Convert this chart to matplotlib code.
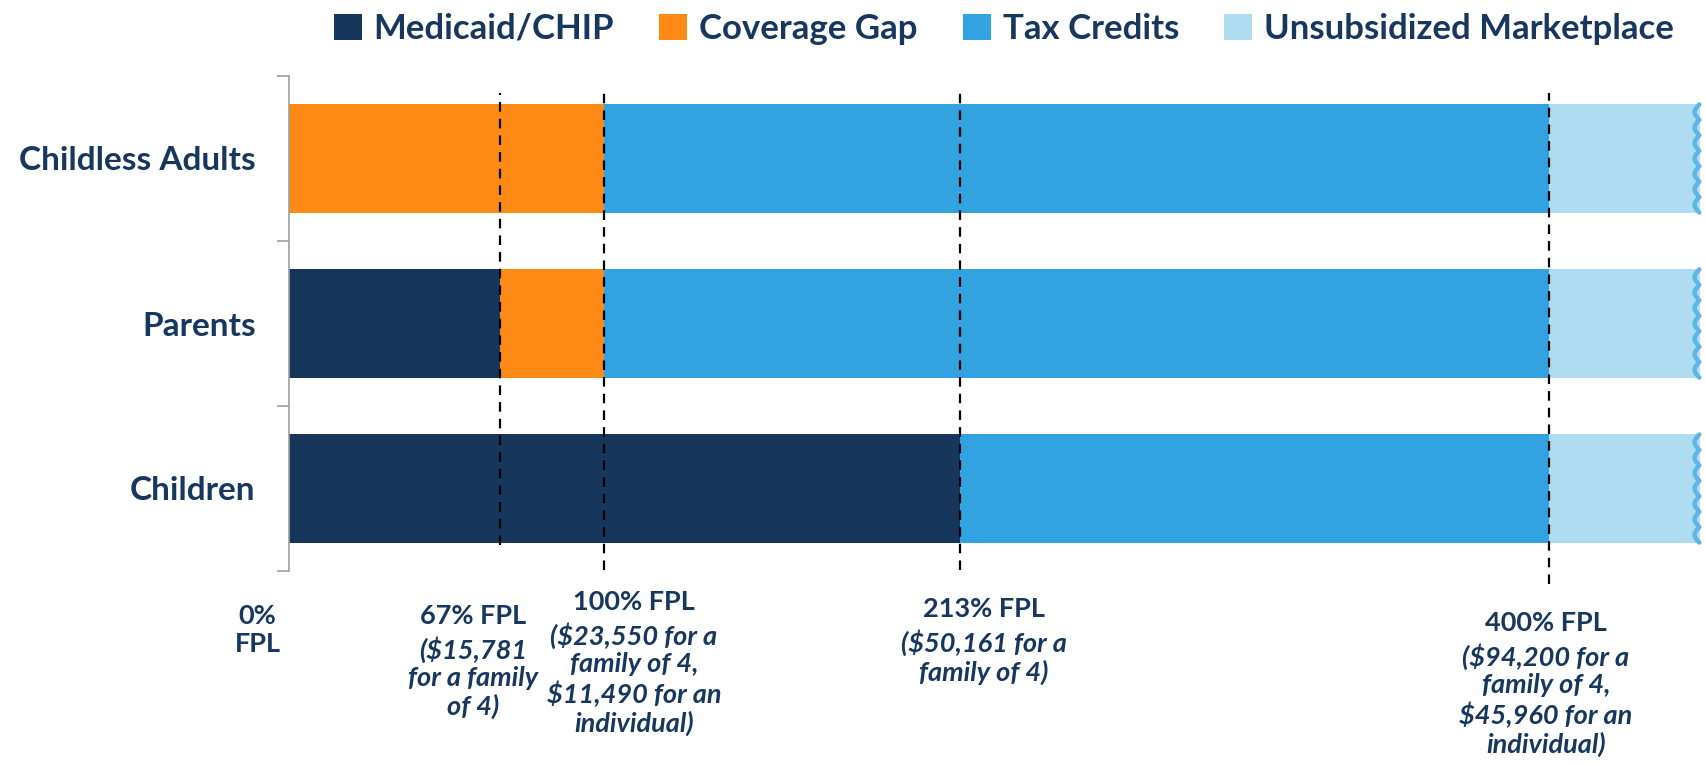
import numpy as np
import matplotlib
matplotlib.use("Agg")
import matplotlib.pyplot as plt
from matplotlib.patches import Patch

# data (percent of FPL), bottom to top
groups = ["Children", "Parents", "Childless Adults"]
medicaid = [213, 67, 0]
coverage_gap = [0, 33, 100]
tax_credits = [187, 300, 300]
unsubsidized = [48, 48, 48]

series_names = ["Medicaid/CHIP", "Coverage Gap", "Tax Credits", "Unsubsidized Marketplace"]
colors = ["#17365C", "#FD8A14", "#33A2E0", "#B0DCF2"]

thresholds = [67, 100, 213, 400]
thr_headers = ["0% FPL", "67% FPL", "100% FPL", "213% FPL", "400% FPL"]
thr_notes = [
    "",
    "($15,781\nfor a family\nof 4)",
    "($23,550 for a\nfamily of 4,\n$11,490 for an\nindividual)",
    "($50,161 for a\nfamily of 4)",
    "($94,200 for a\nfamily of 4,\n$45,960 for an\nindividual)",
]
label_values = [0] + thresholds

NAVY = "#17375E"
plt.rcParams['font.family'] = ['Lato', 'DejaVu Sans']

fig = plt.figure(figsize=(17.05, 7.65), dpi=100)
ax = fig.add_axes([289/1705, 1-571/765, 1416/1705, 495/765])

y = np.arange(len(groups))
left = np.zeros(len(groups))
for vals, c in zip([medicaid, coverage_gap, tax_credits, unsubsidized], colors):
    ax.barh(y, vals, left=left, height=0.655, color=c, edgecolor='none')
    left += np.array(vals)

# scalloped break at the right end of each bar
for yi, end in zip(y, left):
    t = np.linspace(0, 1, 400)
    xs = end - 0.3 - 1.5*np.abs(np.sin(np.pi*7*t))
    ys = yi - 0.3275 + 0.655*t
    ax.plot(xs, ys, color="#5DB6E8", lw=3.2, solid_capstyle='round', clip_on=False)

ax.set_xlim(0, 449.5)
ax.set_ylim(-0.5, 2.5)

# dashed threshold lines
line_bottoms = [-0.342, -0.494, -0.494, -0.579]
for xv, yb in zip(thresholds, line_bottoms):
    ax.vlines(xv, yb, 2.397, colors='black', lw=1.6, linestyles=(0, (4.3, 3.2)), clip_on=False, zorder=5)

ax.set_yticks(y)
ax.set_yticklabels(groups, fontsize=24, fontweight='bold', color=NAVY)
ax.set_yticks([-0.5, 0.5, 1.5, 2.5], minor=True)
ax.tick_params(axis='y', which='major', length=0, pad=24)
ax.tick_params(axis='y', which='minor', length=8.5, width=1.2, color="#A0A0A0")
ax.set_xticks([])
for s in ['top', 'right', 'bottom']:
    ax.spines[s].set_visible(False)
ax.spines['left'].set_color("#A0A0A0")
ax.spines['left'].set_linewidth(1.2)

# threshold labels under the chart
label_dx = [-10, -8.5, 9.5, 7.6, -1]
label_top = [604, 604, 590, 597, 611]
for v, dx, top, h, note in zip(label_values, label_dx, label_top, thr_headers, thr_notes):
    tr = matplotlib.transforms.blended_transform_factory(ax.transData, fig.transFigure)
    head = h.replace(" ", "\n") if v == 0 else h
    ax.text(v + dx, 1 - top/765, head, transform=tr, ha='center', va='top', fontsize=19.5,
            fontweight='bold', color=NAVY, linespacing=1.18, clip_on=False)
    if note:
        ax.text(v + dx, 1 - (top + 32)/765, note, transform=tr, ha='center', va='top', fontsize=19.5,
                fontweight='bold', style='italic', color=NAVY, linespacing=1.18, clip_on=False)

handles = [Patch(facecolor=c, edgecolor='none') for c in colors]
leg = fig.legend(handles, series_names, loc='center', bbox_to_anchor=(1004/1705, 1-29/765), ncol=4,
                 frameon=False, fontsize=25, handlelength=0.8, handleheight=0.8,
                 handletextpad=0.35, columnspacing=1.3, borderaxespad=0)
for txt in leg.get_texts():
    txt.set_color(NAVY)
    txt.set_fontweight('bold')

fig.savefig("out.png", dpi=100)
